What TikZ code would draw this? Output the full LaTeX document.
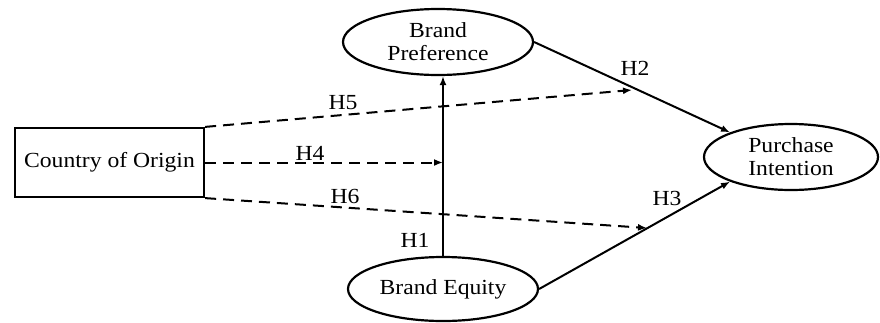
\documentclass[tikz,border=0pt]{standalone}
\usepackage{fontspec}
\setmainfont{Liberation Serif}[FakeStretch=1.1]
\usetikzlibrary{shapes.geometric,arrows.meta}
\begin{document}
\begin{tikzpicture}[x=1pt,y=-1pt,
  every node/.style={font=\fontsize{21.5}{23}\selectfont},
  construct/.style={ellipse,draw,line width=2.2pt,inner sep=0pt,align=center},
  boxnode/.style={rectangle,draw,line width=2.2pt,inner sep=0pt,minimum width=189pt,minimum height=69pt},
  solidarrow/.style={line width=2pt,-{Latex[length=9pt,width=7pt]}},
  dasharrow/.style={line width=2pt,dash pattern=on 11pt off 7pt,-{Latex[length=9pt,width=7pt]}},
  hlabel/.style={inner sep=0pt}]
\useasboundingbox (0,0) rectangle (880,322);
\node[boxnode] (CO) at (109.5,162.5) {Country of Origin};
\node[construct,minimum width=190pt,minimum height=66pt] (BP) at (438,42) {Brand\\Preference};
\node[construct,minimum width=190pt,minimum height=64pt] (BE) at (443,289) {Brand Equity};
\node[construct,minimum width=174pt,minimum height=66pt] (PI) at (791,157) {Purchase\\Intention};
\coordinate (h5end) at (632,90);
\coordinate (h6end) at (647,228);
\draw[solidarrow] (BE.north) -- (BE.north |- BP.south);
\draw[solidarrow] (BP.east) -- (PI.158);
\draw[solidarrow] (BE.east) -- (PI.202);
\draw[dasharrow] (CO.north east) -- (h5end);
\draw[dasharrow] (CO.east) -- (CO.east -| BE.north);
\draw[dasharrow] (CO.south east) -- (h6end);
\node[hlabel] (H5) at (343,103) {H5};
\node[hlabel] (H4) at (310,153) {H4};
\node[hlabel] (H6) at (345,196) {H6};
\node[hlabel] (H1) at (415,240) {H1};
\node[hlabel] (H2) at (635,68) {H2};
\node[hlabel] (H3) at (667,198) {H3};
\end{tikzpicture}
\end{document}
